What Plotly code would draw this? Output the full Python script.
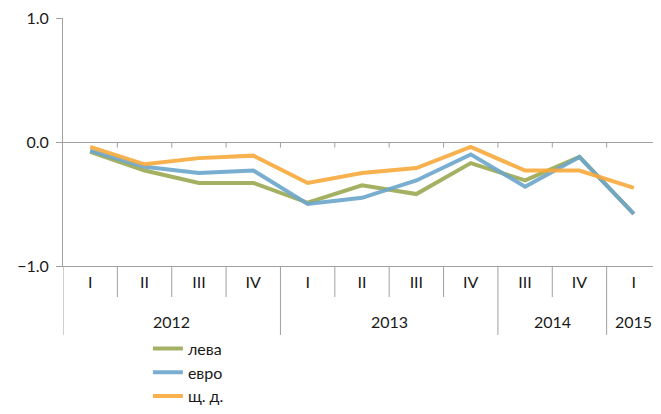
import plotly.graph_objs as go

years = ['2012', '2012', '2012', '2012', '2013', '2013', '2013', '2013', '2014', '2014', '2015']
quarters = ['I', 'II', 'III', 'IV', 'I', 'II', 'III', 'IV', 'III', 'IV', 'I']

leva = [-0.08, -0.23, -0.33, -0.33, -0.49, -0.35, -0.42, -0.17, -0.31, -0.12, -0.58]
evro = [-0.07, -0.20, -0.25, -0.23, -0.50, -0.45, -0.31, -0.10, -0.36, -0.12, -0.58]
shd = [-0.04, -0.18, -0.13, -0.11, -0.33, -0.25, -0.21, -0.04, -0.23, -0.23, -0.37]

names = ['лева', 'евро', 'щ. д.']
colors = ['#9BA953', '#6CA6CC', '#F8A93C']

font = 'Lato, "Open Sans", sans-serif'
grey = '#A0A0A0'

idx = list(range(len(quarters)))

data = []
for name, values, color in zip(names, [leva, evro, shd], colors):
    data.append(go.Scatter(
        x = idx,
        y = values,
        name = name,
        mode = 'lines',
        line = {'color': color, 'width': 4},
        opacity = 0.9,
        legendgroup = name,
    ))

shapes = []
annotations = []

# separators under the axis: short ones between quarters, long ones between years
for i in idx:
    year_change = i == 0 or years[i] != years[i - 1]
    shapes.append({
        'type': 'line', 'xref': 'x', 'yref': 'paper',
        'x0': i - 0.5, 'x1': i - 0.5, 'y0': 0, 'y1': -0.278 if year_change else -0.125,
        'line': {'color': grey, 'width': 1},
    })
    # small tick marks on the zero line
    if i > 0:
        shapes.append({
            'type': 'line', 'xref': 'x', 'yref': 'y',
            'x0': i - 0.5, 'x1': i - 0.5, 'y0': 0, 'y1': -0.045,
            'line': {'color': grey, 'width': 1},
        })

for year in dict.fromkeys(years):
    pos = [i for i in idx if years[i] == year]
    annotations.append({
        'x': (pos[0] + pos[-1]) / 2, 'xref': 'x',
        'y': -0.222, 'yref': 'paper',
        'text': year, 'showarrow': False,
        'xanchor': 'center', 'yanchor': 'middle',
        'font': {'size': 16},
    })

# the page body adds an 8px margin, so the figure is 8px smaller than the window
layout = {
    'width': 653,
    'height': 406,
    'margin': {'l': 55, 'r': 0, 't': 10, 'b': 148},
    'paper_bgcolor': 'white',
    'plot_bgcolor': 'white',
    'font': {'family': font, 'size': 16, 'color': '#1a1a1a'},
    'showlegend': True,
    'legend': {
        'x': 0.142,
        'y': -0.595,
        'xanchor': 'left',
        'yanchor': 'bottom',
        'tracegroupgap': 0,
        'font': {'size': 16},
    },
    'shapes': shapes,
    'annotations': annotations,
    'xaxis': {
        'range': [-0.5, 10.5],
        'tickvals': idx,
        'ticktext': quarters,
        'ticks': '',
        'ticklabelstandoff': 2,
        'showline': True,
        'linecolor': grey,
        'showgrid': False,
        'zeroline': False,
    },
    'yaxis': {
        'range': [-1, 1],
        'dtick': 1,
        'tickformat': '.1f',
        'showgrid': True,
        'gridcolor': grey,
        'zeroline': False,
        'showline': True,
        'linecolor': grey,
        'ticks': 'outside',
        'ticklen': 6,
        'tickcolor': grey,
        'ticklabelstandoff': 4,
        'ticklabeloverflow': 'allow',
    },
}

fig = go.Figure(data = data, layout = layout)
fig.write_html('out.html')
